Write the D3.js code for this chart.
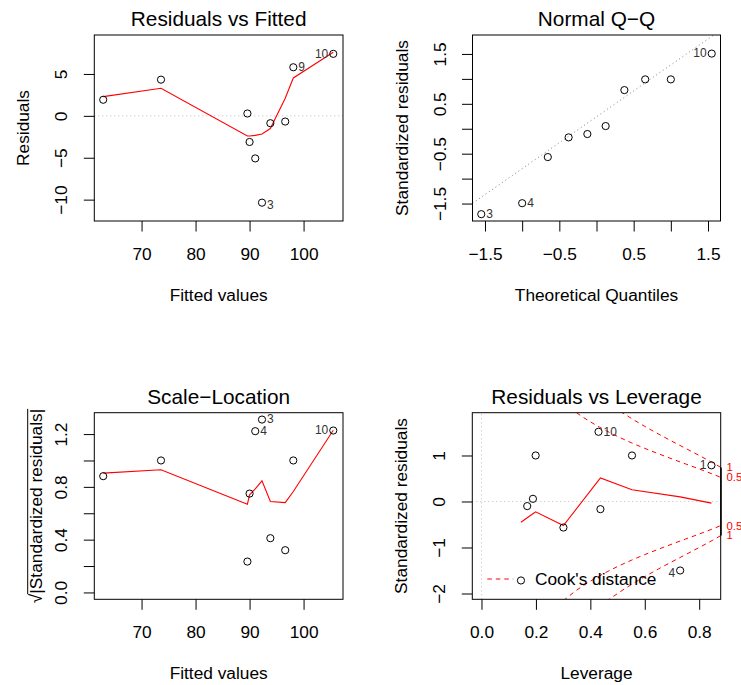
<!DOCTYPE html>
<html><head><meta charset="utf-8">
<script src="https://cdn.jsdelivr.net/npm/d3@7"></script>
<style>body{margin:0;background:#fff} svg{display:block}</style>
</head><body><svg id="c" width="741" height="685"></svg>
<script>
// ---------- data ----------
const obsIds = [1, 2, 3, 4, 5, 6, 7, 8, 9, 10];
const fittedValues = [62.9, 73.6, 92.3, 91.05, 89.6, 90.0, 93.85, 96.6, 98.1, 105.5];
const residuals = [1.92, 4.32, -10.36, -5.08, 0.28, -3.12, -0.88, -0.68, 5.8, 7.4];
const sqrtStdResiduals = [0.881, 1.0, 1.31, 1.222, 0.234, 0.749, 0.411, 0.32, 1.0, 1.227];
const leverage = [0.845, 0.553, 0.145, 0.73, 0.189, 0.301, 0.437, 0.168, 0.199, 0.43];
const stdResiduals = [0.786, 1.0, -1.717, -1.5, 0.058, -0.566, -0.167, -0.10, 1.0, 1.515];

const resFitLabels = ["", "", "3", "", "", "", "", "", "9", "10"];
const scaleLocLabels = ["", "", "3", "4", "", "", "", "", "", "10"];
const leverageLabels = ["1", "", "", "4", "", "", "", "", "", "10"];

const theoreticalQuantiles = [-1.55, -1.0, -0.655, -0.375, -0.123, 0.123, 0.375, 0.655, 1.0, 1.55];
const sortedStdResiduals = [-1.713, -1.493, -0.568, -0.173, -0.106, 0.054, 0.775, 0.99, 0.99, 1.507];
const qqLabels = ["3", "4", "", "", "", "", "", "", "", "10"];
const qqLineIntercept = 0.24;
const qqLineSlope = 1.04;

// smoother (red) lines
const smoothFitted = [62.9, 73.6, 89.6, 90.0, 91.05, 92.3, 93.85, 96.6, 98.1, 105.5];
const smoothResiduals = [2.3, 3.3, -2.4, -2.4, -2.33, -2.16, -1.52, 2.1, 4.52, 7.6];
const smoothSqrtStd = [0.904, 0.93, 0.669, 0.74, 0.785, 0.846, 0.689, 0.681, 0.765, 1.229];
const smoothLeverage = [0.145, 0.168, 0.189, 0.199, 0.301, 0.43, 0.437, 0.553, 0.73, 0.845];
const smoothLevStdRes = [-0.45, -0.354, -0.267, -0.225, -0.524, 0.458, 0.511, 0.255, 0.1, -0.035];

// Cook's distance contours
const cookLevels = ["0.5", "1"];
const cookHat = [0.30, 0.35, 0.40, 0.45, 0.50, 0.55, 0.60, 0.65, 0.70, 0.75, 0.80, 0.85, 0.88];
const cookHalf = [2.160, 1.927, 1.732, 1.564, 1.414, 1.279, 1.155, 1.038, 0.926, 0.816, 0.707, 0.594, 0.522];
const cookOne = [3.055, 2.725, 2.449, 2.211, 2.0, 1.809, 1.633, 1.468, 1.309, 1.155, 1.0, 0.840, 0.739];

// ticks
const fitTicks = [70, 80, 90, 100];
const fitTickLabels = ["70", "80", "90", "100"];
const resTicks = [-10, -5, 0, 5];
const resTickLabels = ["\u221210", "\u22125", "0", "5"];
const qqTicks = [-1.5, -1, -0.5, 0, 0.5, 1, 1.5];
const qqTickLabels = ["\u22121.5", "", "\u22120.5", "", "0.5", "", "1.5"];
const slTicks = [0, 0.2, 0.4, 0.6, 0.8, 1.0, 1.2];
const slTickLabels = ["0.0", "", "0.4", "", "0.8", "", "1.2"];
const levTicks = [0, 0.2, 0.4, 0.6, 0.8];
const levTickLabels = ["0.0", "0.2", "0.4", "0.6", "0.8"];
const levYTicks = [-2, -1, 0, 1];
const levYTickLabels = ["\u22122", "\u22121", "0", "1"];

// ---------- drawing ----------
const FONT = "'Liberation Sans', Arial, Helvetica, sans-serif";
const FS_AXIS = 17.3, FS_TITLE = 20.8, FS_ID = 12, FS_COOK = 11.4;
const svg = d3.select("#c");
const defs = svg.append("defs");

function makePanel(o) {
  const x = d3.scaleLinear().domain(o.xDomain).range([o.left, o.right]);
  const y = d3.scaleLinear().domain(o.yDomain).range([o.bottom, o.top]);
  const g = svg.append("g").attr("font-family", FONT);
  defs.append("clipPath").attr("id", "clip" + o.id).append("rect")
    .attr("x", o.left).attr("y", o.top).attr("width", o.right - o.left).attr("height", o.bottom - o.top);
  const inner = g.append("g").attr("clip-path", `url(#clip${o.id})`);

  const xa = d3.axisBottom(x).tickValues(o.xTicks).tickFormat((d, i) => o.xTickLabels[i])
    .tickSize(10.5).tickSizeOuter(0).tickPadding(16.2);
  const gx = g.append("g").attr("transform", `translate(0,${o.bottom})`).call(xa);
  gx.select(".domain").remove();
  gx.attr("font-size", FS_AXIS).attr("font-family", FONT);
  gx.selectAll("line").attr("stroke", "#000");
  gx.selectAll("text").attr("fill", "#000");

  const ya = d3.axisLeft(y).tickValues(o.yTicks).tickFormat((d, i) => o.yTickLabels[i])
    .tickSize(10.5).tickSizeOuter(0);
  const gy = g.append("g").attr("transform", `translate(${o.left},0)`).call(ya);
  gy.select(".domain").remove();
  gy.attr("font-size", FS_AXIS).attr("font-family", FONT);
  gy.selectAll("line").attr("stroke", "#000");
  gy.selectAll("text").attr("fill", "#000").attr("transform", "rotate(-90)")
    .attr("x", 0).attr("y", -27).attr("dy", null).attr("text-anchor", "middle");

  g.append("rect").attr("x", o.left).attr("y", o.top)
    .attr("width", o.right - o.left).attr("height", o.bottom - o.top)
    .attr("fill", "none").attr("stroke", "#000").attr("stroke-width", 1);

  g.append("text").attr("x", (o.left + o.right) / 2).attr("y", o.top - 8.7)
    .attr("text-anchor", "middle").attr("font-size", FS_TITLE).text(o.title);
  g.append("text").attr("x", (o.left + o.right) / 2).attr("y", o.bottom + 80)
    .attr("text-anchor", "middle").attr("font-size", FS_AXIS).text(o.xLabel);
  if (o.yLabel) {
    g.append("text").attr("transform", `translate(${o.left - 65},${(o.top + o.bottom) / 2}) rotate(-90)`)
      .attr("text-anchor", "middle").attr("font-size", FS_AXIS).text(o.yLabel);
  }
  return { x, y, g, inner };
}

function drawPoints(p, xs, ys) {
  p.g.append("g").selectAll("circle").data(xs).join("circle")
    .attr("cx", (d) => p.x(d)).attr("cy", (d, i) => p.y(ys[i])).attr("r", 3.6)
    .attr("fill", "none").attr("stroke", "#000").attr("stroke-width", 1);
}

function drawIds(p, xs, ys, labels, shiftNeg) {
  const idx = labels.map((l, i) => i).filter((i) => labels[i] !== "");
  const lx = idx.map((i) => xs[i]);
  const mid = (d3.min(lx) + d3.max(lx)) / 2;
  p.g.append("g").selectAll("text").data(idx).join("text")
    .attr("font-size", FS_ID).attr("fill", "#333")
    .attr("x", (i) => p.x(xs[i]) + (xs[i] > mid ? -5 : 5))
    .attr("y", (i) => p.y(ys[i]) + 3.8 + (shiftNeg && ys[i] < 0 ? 3 : 0))
    .attr("text-anchor", (i) => (xs[i] > mid ? "end" : "start"))
    .text((i) => labels[i]);
}

function drawSmooth(p, xs, ys) {
  const line = d3.line().x((d) => p.x(d)).y((d, i) => p.y(ys[i]));
  p.inner.append("path").attr("d", line(xs)).attr("fill", "none")
    .attr("stroke", "red").attr("stroke-width", 1.1);
}

// Panel 1: Residuals vs Fitted
const p1 = makePanel({
  id: 1, left: 94.3, right: 343, top: 35, bottom: 221,
  xDomain: [61.25, 107.3], yDomain: [-12.55, 9.65],
  xTicks: fitTicks, xTickLabels: fitTickLabels, yTicks: resTicks, yTickLabels: resTickLabels,
  title: "Residuals vs Fitted", xLabel: "Fitted values", yLabel: "Residuals"
});
p1.inner.append("line").attr("x1", p1.x.range()[0]).attr("x2", p1.x.range()[1])
  .attr("y1", p1.y(0)).attr("y2", p1.y(0)).attr("stroke", "#bebebe").attr("stroke-dasharray", "1,3");
drawPoints(p1, fittedValues, residuals);
drawSmooth(p1, smoothFitted, smoothResiduals);
drawIds(p1, fittedValues, residuals, resFitLabels, true);

// Panel 2: Normal Q-Q
const p2 = makePanel({
  id: 2, left: 472.5, right: 720.5, top: 35, bottom: 221,
  xDomain: [-1.668, 1.668], yDomain: [-1.85, 1.88],
  xTicks: qqTicks, xTickLabels: qqTickLabels, yTicks: qqTicks, yTickLabels: qqTickLabels,
  title: "Normal Q\u2212Q", xLabel: "Theoretical Quantiles", yLabel: "Standardized residuals"
});
{
  const xd = p2.x.domain();
  p2.inner.append("line").attr("x1", p2.x(xd[0])).attr("x2", p2.x(xd[1]))
    .attr("y1", p2.y(qqLineIntercept + qqLineSlope * xd[0]))
    .attr("y2", p2.y(qqLineIntercept + qqLineSlope * xd[1]))
    .attr("stroke", "#7f7f7f").attr("stroke-dasharray", "1,3");
}
drawPoints(p2, theoreticalQuantiles, sortedStdResiduals);
drawIds(p2, theoreticalQuantiles, sortedStdResiduals, qqLabels, false);

// Panel 3: Scale-Location
const p3 = makePanel({
  id: 3, left: 94.3, right: 343, top: 412.7, bottom: 599.3,
  xDomain: [61.25, 107.3], yDomain: [-0.052, 1.362],
  xTicks: fitTicks, xTickLabels: fitTickLabels, yTicks: slTicks, yTickLabels: slTickLabels,
  title: "Scale\u2212Location", xLabel: "Fitted values", yLabel: null
});
{
  // sqrt(|Standardized residuals|) label
  const lab = p3.g.append("g").attr("transform", `translate(41.7,${(412.7 + 599.3) / 2}) rotate(-90)`);
  const t = lab.append("text").attr("text-anchor", "middle").attr("font-size", FS_AXIS);
  t.append("tspan").text("\u221A");
  const t2 = t.append("tspan").text("|Standardized residuals|");
  const bb = t.node().getBBox();
  const w2 = t2.node().getComputedTextLength();
  const xEnd = bb.x + bb.width;
  lab.append("line").attr("x1", xEnd - w2 - 0.5).attr("x2", xEnd)
    .attr("y1", -14).attr("y2", -14).attr("stroke", "#000").attr("stroke-width", 1);
}
drawPoints(p3, fittedValues, sqrtStdResiduals);
drawSmooth(p3, smoothFitted, smoothSqrtStd);
drawIds(p3, fittedValues, sqrtStdResiduals, scaleLocLabels, false);

// Panel 4: Residuals vs Leverage
const p4 = makePanel({
  id: 4, left: 472.3, right: 720.7, top: 412.7, bottom: 599.3,
  xDomain: [-0.0338, 0.879], yDomain: [-2.126, 1.93],
  xTicks: levTicks, xTickLabels: levTickLabels, yTicks: levYTicks, yTickLabels: levYTickLabels,
  title: "Residuals vs Leverage", xLabel: "Leverage", yLabel: "Standardized residuals"
});
p4.inner.append("line").attr("x1", p4.x.range()[0]).attr("x2", p4.x.range()[1])
  .attr("y1", p4.y(0)).attr("y2", p4.y(0)).attr("stroke", "#bebebe").attr("stroke-dasharray", "1,3");
p4.inner.append("line").attr("x1", p4.x(0)).attr("x2", p4.x(0))
  .attr("y1", p4.y.range()[0]).attr("y2", p4.y.range()[1]).attr("stroke", "#bebebe").attr("stroke-dasharray", "1,3");
drawPoints(p4, leverage, stdResiduals);
drawSmooth(p4, smoothLeverage, smoothLevStdRes);
{
  const curves = [cookHalf, cookOne];
  curves.forEach((c) => {
    [1, -1].forEach((sgn) => {
      const line = d3.line().curve(d3.curveMonotoneX).x((d) => p4.x(d)).y((d, i) => p4.y(sgn * c[i]));
      p4.inner.append("path").attr("d", line(cookHat)).attr("fill", "none")
        .attr("stroke", "red").attr("stroke-width", 1).attr("stroke-dasharray", "4.5,4");
    });
  });
  // right axis with contour levels
  const last = cookHat.length - 1;
  const rightVals = [cookOne[last], cookHalf[last], -cookHalf[last], -cookOne[last]];
  const rightLabs = [cookLevels[1], cookLevels[0], cookLevels[0], cookLevels[1]];
  p4.g.append("line").attr("x1", 721).attr("x2", 721)
    .attr("y1", p4.y(rightVals[0])).attr("y2", p4.y(rightVals[3]))
    .attr("stroke", "#000").attr("stroke-width", 1.5);
  p4.g.append("g").selectAll("text").data(rightVals).join("text")
    .attr("x", 726.5).attr("y", (d) => p4.y(d) + 4)
    .attr("font-size", FS_COOK).attr("fill", "#ff0000").text((d, i) => rightLabs[i]);
  // legend
  const ly = p4.y.range()[0] - 20.3;
  p4.g.append("line").attr("x1", 487.3).attr("x2", 513.3).attr("y1", ly).attr("y2", ly)
    .attr("stroke", "red").attr("stroke-dasharray", "4.5,4");
  p4.g.append("text").attr("x", 535).attr("y", ly + 6).attr("font-size", FS_AXIS).text("Cook's distance");
}
drawIds(p4, leverage, stdResiduals, leverageLabels, true);
</script></body></html>
